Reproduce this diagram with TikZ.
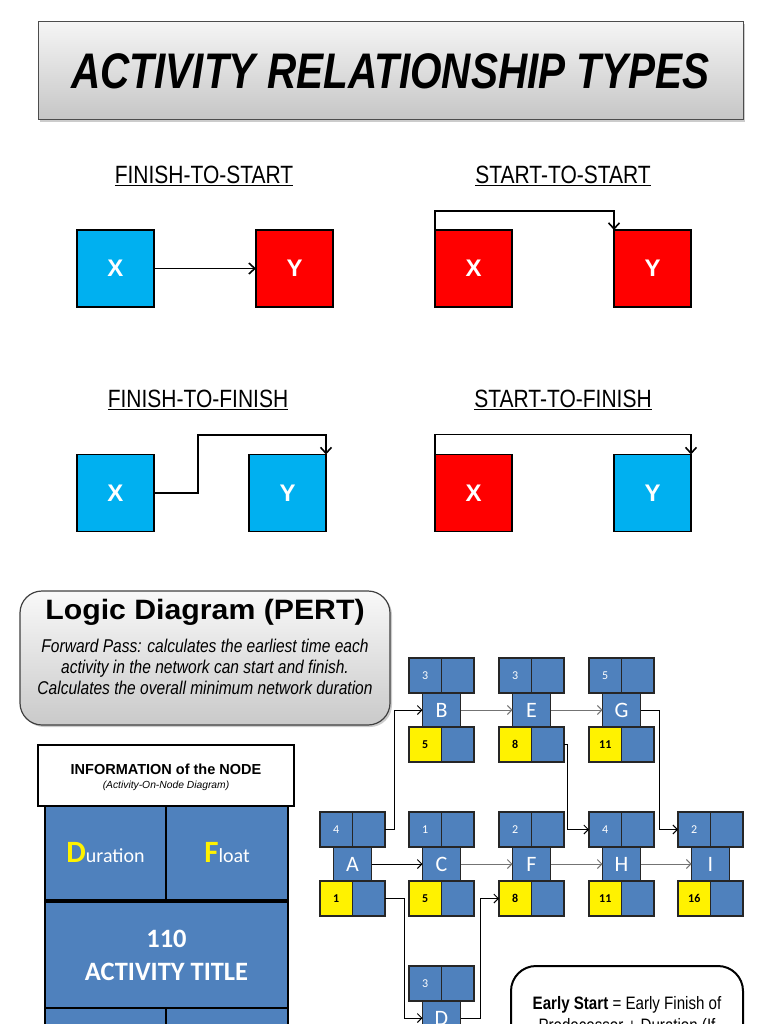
\documentclass[tikz,border=0pt]{standalone}
\usepackage{fontspec}
\setmainfont{Liberation Sans}
\newfontfamily\narrowfont[FakeStretch=0.84]{Liberation Sans}
\newfontfamily\headfont[FakeStretch=0.81]{Liberation Sans}
\newfontfamily\wideFont[FakeStretch=1.08]{Liberation Sans}
\newfontfamily\calfont{Carlito}
\usetikzlibrary{positioning,arrows.meta,shadows}
\definecolor{skyblue}{HTML}{00B0F0}
\definecolor{relred}{HTML}{FF0000}
\definecolor{nodeblue}{HTML}{4F81BD}
\newcommand{\fsz}[2]{\fontsize{#1}{#2}\selectfont}
\newcommand{\actnode}[6]{%
  \node[cell,anchor=north west] (#1-d) at (#2,#3) {#4};
  \node[cell,right=0pt of #1-d] (#1-f) {};
  \node[midcell,below=0pt of #1-d.south east] (#1-m) {#5};
  \node[cell,fill=yellow,text=black,anchor=north east] (#1-es) at (#1-m.south -| #1-d.east) {\bfseries #6};
  \node[cell,right=0pt of #1-es] (#1-lf) {};
}
\begin{document}
\begin{tikzpicture}[x=1pt,y=-1pt,
  every node/.style={inner sep=0pt,outer sep=0pt},
  actbox/.style={draw=black,line width=1.5pt,minimum size=77pt,text=white,font=\bfseries\fsz{24}{24}},
  reltitle/.style={font=\narrowfont\fsz{25}{25}},
  rel/.style={draw=black,line width=1.6pt,-{Straight Barb[length=6pt,width=11pt]}},
  cell/.style={draw=black!85,line width=1.3pt,fill=nodeblue,text=white,minimum width=32.5pt,minimum height=35pt,font=\calfont\fsz{12}{12}},
  midcell/.style={cell,minimum width=38pt,minimum height=34pt,font=\calfont\fsz{22}{22}},
  link/.style={draw,line width=.9pt,-{Straight Barb[length=4.5pt,width=9pt]}},
  infocell/.style={draw=black,line width=1.5pt,fill=nodeblue,text=white,anchor=north west,font=\calfont}]
\useasboundingbox (0,0) rectangle (768,1024);
\clip (0,0) rectangle (768,1024);

\node[draw=black!70,line width=1pt,top color=gray!8,bottom color=gray!45,drop shadow={shadow xshift=2pt,shadow yshift=-2pt,opacity=.4},minimum width=705pt,minimum height=98pt] (title) at (390.5,71) {\headfont\bfseries\itshape\fsz{50}{50}ACTIVITY RELATIONSHIP TYPES};

\node[reltitle] (fs) at (204,176) {\underline{FINISH-TO-START}};
\node[reltitle] (ss) at (563,176) {\underline{START-TO-START}};
\node[reltitle] (ff) at (198,400) {\underline{FINISH-TO-FINISH}};
\node[reltitle] (sf) at (563,400) {\underline{START-TO-FINISH}};

\node[actbox,fill=skyblue] (fsx) at (115.5,268.5) {X};
\node[actbox,fill=relred] (fsy) at (294.5,268.5) {Y};
\node[actbox,fill=relred] (ssx) at (473.5,268.5) {X};
\node[actbox,fill=relred] (ssy) at (652.5,268.5) {Y};
\node[actbox,fill=skyblue] (ffx) at (115.5,493) {X};
\node[actbox,fill=skyblue] (ffy) at (287.5,493) {Y};
\node[actbox,fill=relred] (sfx) at (473.5,493) {X};
\node[actbox,fill=skyblue] (sfy) at (652.5,493) {Y};
\draw[rel] (fsx) -- (fsy);
\draw[rel] (ssx.north west) -- ++(0,-19) -| (ssy.north west);
\draw[rel] (ffx.east) -- ++(44,0) -- ++(0,-58) -| (ffy.north east);
\draw[rel] (sfx.north west) -- ++(0,-20) -| (sfy.north east);

\node[draw=black!75,line width=1.2pt,rounded corners=22pt,top color=gray!5,bottom color=gray!42,drop shadow={shadow xshift=2pt,shadow yshift=-2pt,opacity=.4},minimum width=370pt,minimum height=134pt] (pert) at (205,658) {};
\node (perttitle) at (205,612) {\wideFont\bfseries\fsz{28}{28}Logic Diagram (PERT)};
\node[align=center,font=\narrowfont\itshape\fsz{18.5}{21}] (pertnote) at (205,667) {Forward Pass: calculates the earliest time each\\activity in the network can start and finish.\\Calculates the overall minimum network duration};

\node[infocell,minimum width=121pt,minimum height=95pt] (info-d) at (45,805) {\textcolor{yellow}{\bfseries\fsz{31}{31}D}\fsz{20}{20}uration};
\node[infocell,minimum width=122pt,minimum height=95pt] (info-f) at (166,805) {\textcolor{yellow}{\bfseries\fsz{31}{31}F}\fsz{20}{20}loat};
\node[infocell,minimum width=243pt,minimum height=106pt,align=center,font=\calfont\bfseries\fsz{26.5}{33}] (info-t) at (45,902) {110\\ACTIVITY TITLE};
\node[infocell,minimum width=121pt,minimum height=95pt] (info-l) at (45,1008) {};
\node[infocell,minimum width=122pt,minimum height=95pt] (info-r) at (166,1008) {};
\node[draw=black,line width=2pt,fill=white,minimum width=256pt,minimum height=61pt] (infohead) at (166,775.5) {};
\node (infotitle) at (166,769) {\bfseries\fsz{14.5}{15}INFORMATION of the NODE};
\node (infonote) at (166,786) {\itshape\fsz{10.3}{11}(Activity-On-Node Diagram)};

\actnode{B}{409}{658}{3}{B}{5}
\actnode{E}{499}{658}{3}{E}{8}
\actnode{G}{589}{658}{5}{G}{11}
\actnode{A}{320}{812}{4}{A}{1}
\actnode{C}{409}{812}{1}{C}{5}
\actnode{F}{499}{812}{2}{F}{8}
\actnode{H}{589}{812}{4}{H}{11}
\actnode{I}{678}{812}{2}{I}{16}
\actnode{D}{409}{966}{3}{D}{}

\draw[link] (A-f.east) -- ++(9,0) |- (B-m.west);
\draw[link,black!55] (B-m.east) -- (E-m.west);
\draw[link,black!55] (E-m.east) -- (G-m.west);
\draw[link] (E-lf.east) -- ++(3,0) |- (H-d.west);
\draw[link] (G-m.east) -- ++(19,0) |- (I-d.west);
\draw[link] (A-m.east) -- (C-m.west);
\draw[link,black!55] (C-m.east) -- (F-m.west);
\draw[link,black!55] (F-m.east) -- (H-m.west);
\draw[link,black!55] (H-m.east) -- (I-m.west);
\draw[link] (A-lf.east) -- ++(19,0) |- (D-m.west);
\draw[link] (D-m.east) -- ++(20,0) |- (F-es.west);

\node[draw=black,line width=2pt,rounded corners=25pt,fill=white,anchor=north west,minimum width=232pt,minimum height=140pt] (esbox) at (511,966) {};
\node[anchor=base,font=\narrowfont\fsz{18}{22}] (esline1) at (627,1009) {\textbf{Early Start} = Early Finish of};
\node[anchor=base,font=\narrowfont\fsz{18}{22}] (esline2) at (627,1031) {Predecessor + Duration (If};
\end{tikzpicture}
\end{document}
